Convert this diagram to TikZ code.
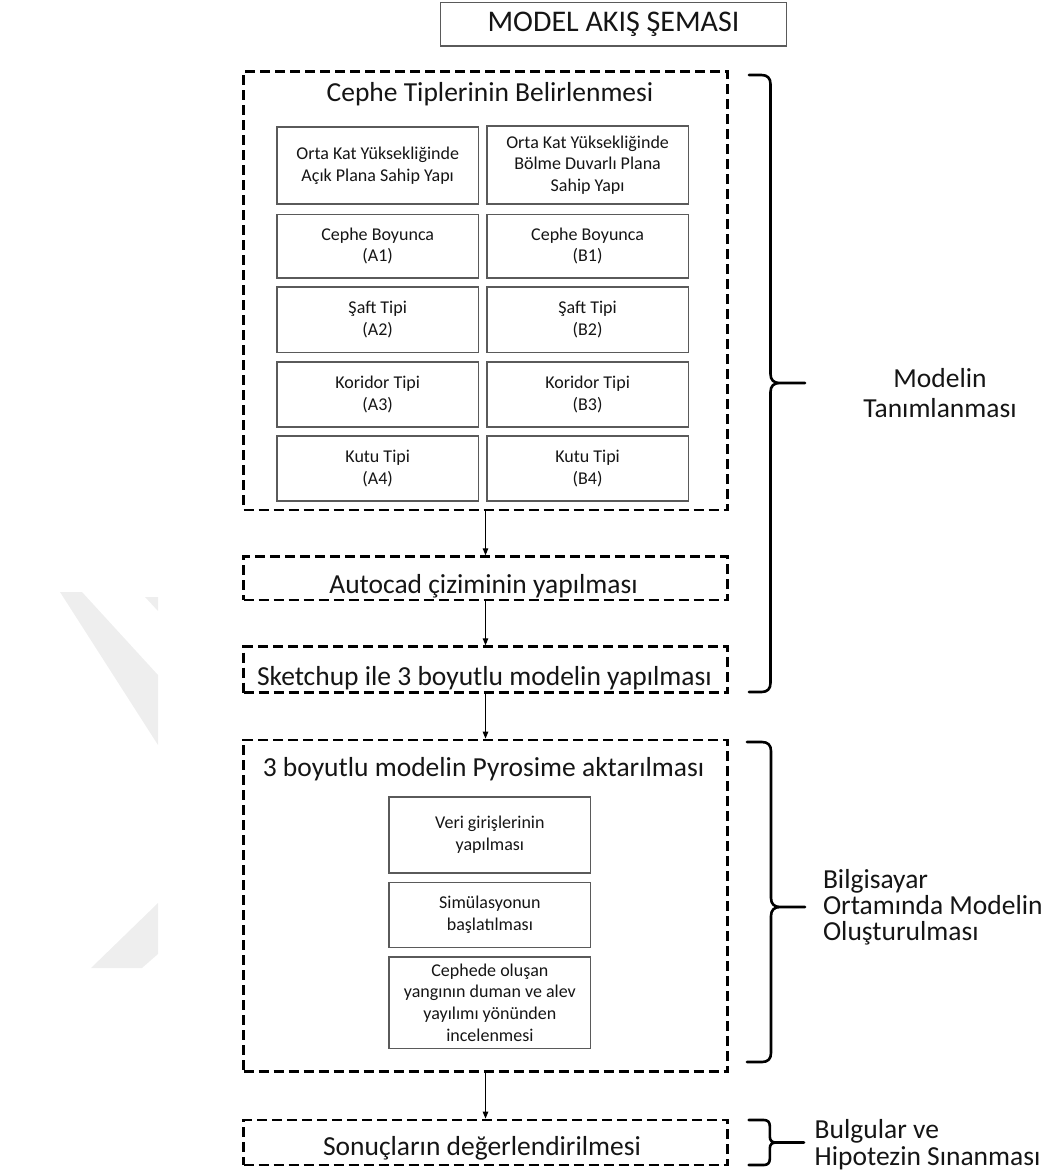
\documentclass[tikz,border=0pt]{standalone}
\usepackage{fontspec}
\setmainfont{Carlito}
\usetikzlibrary{arrows.meta}

\definecolor{boxgray}{HTML}{5A5A5A}
\definecolor{inkblack}{HTML}{151515}
\definecolor{markgray}{HTML}{EEEEEE}

\newcommand\bigfont{\fontsize{27.5}{27}\selectfont}
\newcommand\cellfont{\fontsize{18}{21.7}\selectfont}
\newcommand\headfont{\fontsize{30}{32}\selectfont}

% Curly side brace: #1 end x, #2 spine x, #3 top y, #4 cusp y, #5 bottom y, #6 tip x, #7 corner size
\newcommand\drawsidebrace[7]{%
  \draw[bracestyle]
    (#1,#3) -- ({#2-#7},#3)
      .. controls ({#2-0.35*#7},#3) and (#2,{#3+0.35*#7}) .. (#2,{#3+#7})
      -- (#2,{#4-#7})
      .. controls (#2,{#4-0.35*#7}) and ({#2+0.35*#7},#4) .. ({#2+#7},#4)
      -- (#6,#4)
    ({#2+#7},#4)
      .. controls ({#2+0.35*#7},#4) and (#2,{#4+0.35*#7}) .. (#2,{#4+#7})
      -- (#2,{#5-#7})
      .. controls (#2,{#5-0.35*#7}) and ({#2-0.35*#7},#5) .. ({#2-#7},#5)
      -- (#1,#5);}

\begin{document}
\begin{tikzpicture}[x=1pt,y=-1pt,
  every node/.style={inner sep=0pt, outer sep=0pt, text=inkblack},
  framebox/.style={draw=black, line width=2.8pt, dash pattern=on 10pt off 5pt,
    rectangle, minimum width=484pt},
  titlebox/.style={draw=boxgray, line width=1.5pt, rectangle, font=\headfont,
    minimum width=345.7pt, minimum height=43.3pt},
  cellbox/.style={draw=boxgray, line width=1.6pt, rectangle, align=center,
    font=\cellfont, minimum width=201.5pt},
  bigtext/.style={font=\bigfont, anchor=base},
  sidetext/.style={font=\bigfont, anchor=base west},
  flowarrow/.style={-{Triangle[length=7pt,width=5.5pt]}, line width=1.1pt,
    shorten >=1.4pt},
  bracestyle/.style={line width=2.6pt, line cap=round, line join=round}]

\useasboundingbox (0,0) rectangle (1060,1173);

% faint background mark on the left
\fill[markgray] (60,592) -- (82,592) -- (158,675) -- (158,745) -- cycle;
\fill[markgray] (145,597) -- (158,597) -- (158,611) -- cycle;
\fill[markgray] (91,968) -- (158,903) -- (158,954) -- (142,968) -- cycle;

% heading
\node[titlebox] (title) at (613.5,24.3) {MODEL AKIŞ ŞEMASI};

% stage frames
\node[framebox, minimum height=438.3pt] (frameA) at (485.5,290.85) {};
\node[framebox, minimum height=43.3pt]  (frameB) at (485.5,578.35) {};
\node[framebox, minimum height=46pt]    (frameC) at (485.5,669.7) {};
\node[framebox, minimum height=331.7pt] (frameD) at (485.5,905.85) {};
\node[framebox, minimum height=45pt]    (frameE) at (485.5,1142.5) {};

% stage texts
\node[bigtext] (headA) at (490,101.7) {Cephe Tiplerinin Belirlenmesi};
\node[bigtext] (textB) at (483.5,593.3) {Autocad çiziminin yapılması};
\node[bigtext] (textC) at (484.4,685) {Sketchup ile 3 boyutlu modelin yapılması};
\node[bigtext] (headD) at (483.5,776.7) {3 boyutlu modelin Pyrosime aktarılması};
\node[bigtext] (textE) at (482,1155) {Sonuçların değerlendirilmesi};

% facade types, open plan column
\node[cellbox, minimum height=77pt]   (a0) at (377.7,165.5) {Orta Kat Yüksekliğinde\\Açık Plana Sahip Yapı};
\node[cellbox, minimum height=63.4pt] (a1) at (377.7,246)   {Cephe Boyunca\\(A1)};
\node[cellbox, minimum height=65.6pt] (a2) at (377.7,319.5) {Şaft Tipi\\(A2)};
\node[cellbox, minimum height=65pt]   (a3) at (377.7,394.2) {Koridor Tipi\\(A3)};
\node[cellbox, minimum height=65pt]   (a4) at (377.7,468.2) {Kutu Tipi\\(A4)};

% facade types, partition wall column
\node[cellbox, minimum height=78pt]   (b0) at (587.6,165)   {Orta Kat Yüksekliğinde\\Bölme Duvarlı Plana\\Sahip Yapı};
\node[cellbox, minimum height=63.4pt] (b1) at (587.6,246)   {Cephe Boyunca\\(B1)};
\node[cellbox, minimum height=65.6pt] (b2) at (587.6,319.5) {Şaft Tipi\\(B2)};
\node[cellbox, minimum height=65pt]   (b3) at (587.6,394.2) {Koridor Tipi\\(B3)};
\node[cellbox, minimum height=65pt]   (b4) at (587.6,468.2) {Kutu Tipi\\(B4)};

% simulation steps
\node[cellbox, minimum height=76pt]   (p1) at (489.9,834.7)  {Veri girişlerinin\\yapılması};
\node[cellbox, minimum height=65pt]   (p2) at (489.9,914.8)  {Simülasyonun\\başlatılması};
\node[cellbox, minimum height=91.6pt] (p3) at (489.9,1002.5) {Cephede oluşan\\yangının duman ve alev\\yayılımı yönünden\\incelenmesi};

% flow
\draw[flowarrow] (frameA.south) -- (frameB.north);
\draw[flowarrow] (frameB.south) -- (frameC.north);
\draw[flowarrow] (frameC.south) -- (frameD.north);
\draw[flowarrow] (frameD.south) -- (frameE.north);

% side braces
\drawsidebrace{749}{770.5}{75}{383}{692}{805}{9}
\drawsidebrace{747}{771}{742}{907}{1062}{805}{9}
\drawsidebrace{748.6}{769.8}{1120}{1142.5}{1165}{804}{6}

% phase labels
\node[bigtext] (lblA1) at (940,387) {Modelin};
\node[bigtext] (lblA2) at (940,417) {Tanımlanması};
\node[sidetext] (lblB1) at (823,888) {Bilgisayar};
\node[sidetext] (lblB2) at (823,914) {Ortamında Modelin};
\node[sidetext] (lblB3) at (823,940) {Oluşturulması};
\node[sidetext] (lblC1) at (814.7,1138) {Bulgular ve};
\node[sidetext] (lblC2) at (814.7,1165) {Hipotezin Sınanması};

\end{tikzpicture}
\end{document}
